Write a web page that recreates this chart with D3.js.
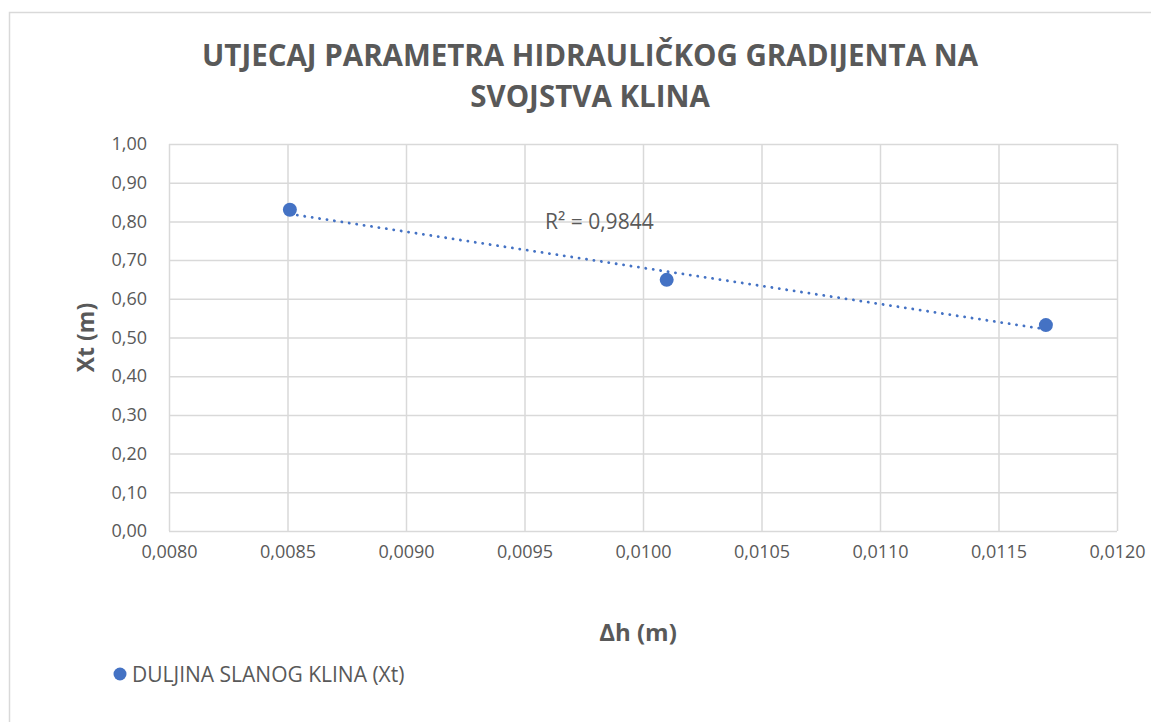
<!DOCTYPE html>
<html>
<head>
<meta charset="utf-8">
<script src="https://cdn.jsdelivr.net/npm/d3@7"></script>
<style>
  html, body { margin: 0; padding: 0; background: #fff; }
  svg { display: block; }
  text { font-family: "Open Sans", "Noto Sans", sans-serif; fill: #595959; }
</style>
</head>
<body>
<svg id="chart" width="1151" height="722"></svg>
<script>
// Measured series: hydraulic gradient head difference vs. salt wedge length
const deltaH = [0.00851, 0.0101, 0.0117];
const wedgeLength = [0.83, 0.649, 0.532];

const xTicks = [0.0080, 0.0085, 0.0090, 0.0095, 0.0100, 0.0105, 0.0110, 0.0115, 0.0120];
const yTicks = [0, 0.1, 0.2, 0.3, 0.4, 0.5, 0.6, 0.7, 0.8, 0.9, 1.0];

const titleLines = ["UTJECAJ PARAMETRA HIDRAULIČKOG GRADIJENTA NA", "SVOJSTVA KLINA"];
const xTitle = "Δh (m)";
const yTitle = "Xt (m)";
const seriesName = "DULJINA SLANOG KLINA (Xt)";

const blue = "#4472C4";
const grid = "#d9d9d9";

const svg = d3.select("#chart");
const plot = { left: 169, top: 144, right: 1117, bottom: 531 };

const x = d3.scaleLinear().domain([0.008, 0.012]).range([plot.left, plot.right]);
const y = d3.scaleLinear().domain([0, 1]).range([plot.bottom, plot.top]);

const commaFmt = (digits) => (v) => d3.format(`.${digits}f`)(v).replace(".", ",");

// Outer chart frame
svg.append("rect")
  .attr("x", 9.5).attr("y", 12.5)
  .attr("width", 1160).attr("height", 720)
  .attr("fill", "none").attr("stroke", grid).attr("stroke-width", 1.5);

// Title
svg.append("g").selectAll("text").data(titleLines).join("text")
  .attr("x", 590).attr("y", (d, i) => 66 + i * 41)
  .attr("text-anchor", "middle")
  .attr("font-size", 29.5).attr("font-weight", 700)
  .text(d => d);

// Gridlines and tick labels
const yAxis = d3.axisLeft(y).tickValues(yTicks).tickFormat(commaFmt(2))
  .tickSize(-(plot.right - plot.left)).tickPadding(22);
svg.append("g").attr("transform", `translate(${plot.left},0)`).call(yAxis)
  .call(g => g.select(".domain").remove())
  .call(g => g.selectAll(".tick line").attr("stroke", grid).attr("stroke-width", 1.5))
  .call(g => g.selectAll(".tick text").attr("font-size", 18).attr("fill", "#595959")
    .style("font-family", "'Open Sans', sans-serif"));

const xAxis = d3.axisBottom(x).tickValues(xTicks).tickFormat(commaFmt(4))
  .tickSize(-(plot.bottom - plot.top)).tickPadding(14);
svg.append("g").attr("transform", `translate(0,${plot.bottom})`).call(xAxis)
  .call(g => g.select(".domain").remove())
  .call(g => g.selectAll(".tick line").attr("stroke", grid).attr("stroke-width", 1.5))
  .call(g => g.selectAll(".tick text").attr("font-size", 18).attr("fill", "#595959")
    .style("font-family", "'Open Sans', sans-serif"));

// Axis titles
svg.append("text")
  .attr("transform", `translate(94,${(plot.top + plot.bottom) / 2}) rotate(-90)`)
  .attr("text-anchor", "middle").attr("font-size", 23).attr("font-weight", 700)
  .text(yTitle);
svg.append("text")
  .attr("x", 638).attr("y", 641)
  .attr("text-anchor", "middle").attr("font-size", 24).attr("font-weight", 700)
  .text(xTitle);

// Linear trendline (least squares) with R²
const mx = d3.mean(deltaH), my = d3.mean(wedgeLength);
const sxy = d3.sum(deltaH, (v, i) => (v - mx) * (wedgeLength[i] - my));
const sxx = d3.sum(deltaH, v => (v - mx) ** 2);
const slope = sxy / sxx, intercept = my - slope * mx;
const ssTot = d3.sum(wedgeLength, v => (v - my) ** 2);
const ssRes = d3.sum(deltaH, (v, i) => (wedgeLength[i] - (intercept + slope * v)) ** 2);
const r2 = 1 - ssRes / ssTot;

const xExt = d3.extent(deltaH);
svg.append("path")
  .datum(xExt.map(v => [v, intercept + slope * v]))
  .attr("d", d3.line().x(d => x(d[0])).y(d => y(d[1])))
  .attr("fill", "none").attr("stroke", blue).attr("stroke-width", 2.8)
  .attr("stroke-linecap", "round").attr("stroke-dasharray", "0.1 7.4");

svg.append("text")
  .attr("x", 545).attr("y", 229)
  .attr("font-size", 21)
  .text(`R² = ${commaFmt(4)(r2)}`);

// Data points
svg.append("g").selectAll("circle").data(deltaH).join("circle")
  .attr("cx", d => x(d)).attr("cy", (d, i) => y(wedgeLength[i]))
  .attr("r", 7).attr("fill", blue);

// Legend
svg.append("circle").attr("cx", 120).attr("cy", 674).attr("r", 6.5).attr("fill", blue);
svg.append("text").attr("x", 132).attr("y", 682).attr("font-size", 21).text(seriesName);
</script>
</body>
</html>
